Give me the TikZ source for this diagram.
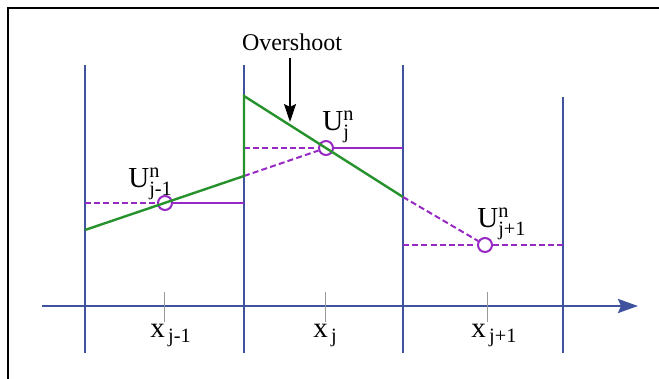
\documentclass[tikz,border=0pt]{standalone}
\usepackage{amsmath}
\usepackage{fontspec}
\setmainfont{Liberation Serif}
\usepackage{tikz}
\usetikzlibrary{arrows.meta,positioning,calc}
\usepackage{xcolor}
\definecolor{gridblue}{RGB}{62,82,158}
\definecolor{slopegreen}{RGB}{38,146,44}
\definecolor{avgviolet}{RGB}{150,40,195}
\newcommand{\lblfont}{\fontsize{14.5}{17}\selectfont}

\begin{document}
\begin{tikzpicture}[x=0.5pt, y=-0.5pt,
    wall/.style={draw=gridblue, line width=1pt},
    axisline/.style={draw=gridblue, line width=1.2pt, -{Stealth[length=10pt, width=7pt, inset=1.5pt]}},
    tickline/.style={draw=black!40, line width=0.5pt},
    slope/.style={draw=slopegreen, line width=1.2pt, line join=miter},
    recon/.style={draw=avgviolet, line width=1pt},
    recondash/.style={recon, dash pattern=on 3pt off 1.6pt},
    cellavg/.style={circle, draw=avgviolet, line width=1pt, minimum size=7pt, inner sep=0pt},
    pointer/.style={draw=black, line width=1pt, -{Stealth[length=9pt, width=6pt, inset=1.5pt]}},
    lbl/.style={inner sep=0pt, font=\lblfont}
]
    \useasboundingbox (0,0) rectangle (659,379);
    % frame
    \draw[line width=1.3pt] (8,379) -- (8,8) -- (659,8);

    % cell walls and axis
    \foreach \xx/\yy in {85/65, 244/65, 403/65, 563/97}
        \draw[wall] (\xx,\yy) -- (\xx,353);
    \coordinate (ax0) at (42,306);
    \coordinate (ax1) at (638,306);
    \draw[axisline] (ax0) -- (ax1);
    \foreach \xx in {164,325,487}
        \draw[tickline] (\xx,292) -- (\xx,322);

    % cell averages
    \node[cellavg] (u1) at (165,203) {};
    \node[cellavg] (u2) at (326,148) {};
    \node[cellavg] (u3) at (485,245) {};

    \coordinate (a0) at (85,203);  \coordinate (a1) at (244,203);
    \coordinate (b0) at (244,148); \coordinate (b1) at (403,148);
    \coordinate (c0) at (403,245); \coordinate (c1) at (563,245);

    % reconstruction (green)
    \coordinate (g0) at (85,230);
    \coordinate (g1) at (244,176);
    \coordinate (g2) at (244,96);
    \coordinate (g3) at (403,197);

    \draw[recondash] (a0) -- (u1);
    \draw[recon] (u1) -- (a1);
    \draw[recondash] (b0) -- (u2);
    \draw[recon] (u2) -- (b1);
    \draw[recondash] (g1) -- (u2);
    \draw[recondash] (g3) -- (u3);
    \draw[recondash] (c0) -- (u3);
    \draw[recondash] (u3) -- (c1);

    \draw[slope] (g0) -- (g1) -- (g2) -- (g3);

    % labels
    \node[lbl, anchor=base west] (lu1) at (128,188) {U$^{\text{n}}_{\text{j-1}}$};
    \node[lbl, anchor=base west] (lu2) at (322,131) {U$^{\text{n}}_{\text{j}}$};
    \node[lbl, anchor=base west] (lu3) at (477,228) {U$^{\text{n}}_{\text{j+1}}$};

    \node[lbl, anchor=base west] (x1) at (150,338) {x$_{\,\text{j-1}}$};
    \node[lbl, anchor=base west] (x2) at (313,338) {x$_{\,\text{j}}$};
    \node[lbl, anchor=base west] (x3) at (471,338) {x$_{\,\text{j+1}}$};

    \coordinate (tip) at (290,122);
    \node[inner sep=0pt, anchor=base, font=\fontsize{12}{14}\selectfont] (over) at (292,51) {Overshoot};
    \draw[pointer, shorten <=3pt] (over.south -| tip) -- (tip);
\end{tikzpicture}
\end{document}
